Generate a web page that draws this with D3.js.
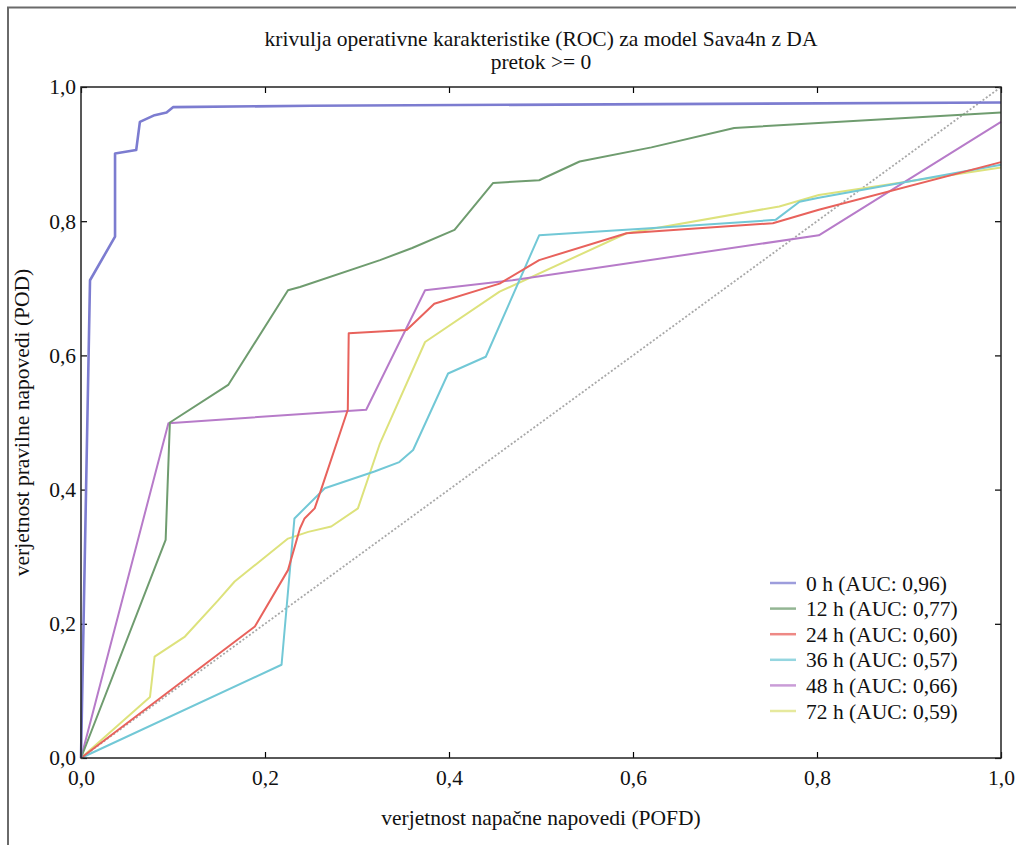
<!DOCTYPE html>
<html>
<head>
<meta charset="utf-8">
<script src="https://cdn.jsdelivr.net/npm/d3@7"></script>
<style>
  body { margin: 0; background: #fff; }
</style>
</head>
<body>
<div id="chart"></div>
<script>
// ROC curves: false alarm rate (POFD) vs. probability of detection (POD)
const seriesNames = ["0 h", "12 h", "24 h", "36 h", "48 h", "72 h"];
const aucValues = ["0,96", "0,77", "0,60", "0,57", "0,66", "0,59"];
const seriesColors = ["#7c7cd0", "#6f9c6f", "#e8625c", "#72c8d6", "#b77bc9", "#dde27c"];

const pofd0 = [0, 0.0098, 0.037, 0.037, 0.060, 0.064, 0.080, 0.093, 0.100, 0.25, 1.0];
const pod0  = [0, 0.712, 0.777, 0.901, 0.906, 0.948, 0.958, 0.962, 0.970, 0.972, 0.977];

const pofd12 = [0, 0.092, 0.0966, 0.16, 0.225, 0.238, 0.325, 0.36, 0.406, 0.448, 0.498, 0.542, 0.62, 0.71, 1.0];
const pod12  = [0, 0.325, 0.500, 0.556, 0.697, 0.702, 0.742, 0.760, 0.787, 0.857, 0.861, 0.889, 0.910, 0.939, 0.962];

const pofd24 = [0, 0.189, 0.225, 0.238, 0.243, 0.254, 0.261, 0.29, 0.291, 0.354, 0.384, 0.455, 0.498, 0.593, 0.752, 0.802, 1.0];
const pod24  = [0, 0.196, 0.280, 0.342, 0.357, 0.372, 0.400, 0.519, 0.633, 0.638, 0.677, 0.707, 0.742, 0.782, 0.797, 0.817, 0.888];

const pofd36 = [0, 0.218, 0.232, 0.265, 0.319, 0.346, 0.361, 0.399, 0.440, 0.498, 0.614, 0.755, 0.781, 0.802, 1.0];
const pod36  = [0, 0.139, 0.357, 0.402, 0.427, 0.441, 0.459, 0.573, 0.598, 0.779, 0.789, 0.802, 0.829, 0.835, 0.884];

const pofd48 = [0, 0.095, 0.310, 0.374, 0.469, 0.802, 1.0];
const pod48  = [0, 0.499, 0.519, 0.697, 0.712, 0.779, 0.948];

const pofd72 = [0, 0.075, 0.080, 0.113, 0.149, 0.167, 0.225, 0.247, 0.272, 0.301, 0.325, 0.374, 0.455, 0.593, 0.759, 0.802, 1.0];
const pod72  = [0, 0.091, 0.151, 0.181, 0.235, 0.263, 0.327, 0.337, 0.345, 0.372, 0.469, 0.620, 0.695, 0.782, 0.822, 0.839, 0.880];

const tickValues = [0, 0.2, 0.4, 0.6, 0.8, 1.0];
const tickLabels = ["0,0", "0,2", "0,4", "0,6", "0,8", "1,0"];

const titleLines = ["krivulja operativne karakteristike (ROC) za model Sava4n z DA", "pretok >= 0"];
const xLabel = "verjetnost napačne napovedi (POFD)";
const yLabel = "verjetnost pravilne napovedi (POD)";

const allX = [pofd0, pofd12, pofd24, pofd36, pofd48, pofd72];
const allY = [pod0, pod12, pod24, pod36, pod48, pod72];

const FONT = "Liberation Serif";
const FONT_SIZE = 21.5;

function renderChart() {
    const width = 1016, height = 845;
    const margin = { top: 87, left: 81 };
    const chartWidth = 1001 - margin.left;
    const chartHeight = 758 - margin.top;

    const svg = d3.select("#chart")
        .append("svg")
        .attr("width", width)
        .attr("height", height)
        .attr("font-family", FONT);

    // window frame (cropped screenshot border)
    svg.append("path")
        .attr("d", "M8,845 L8,7.5 L1016,7.5")
        .attr("fill", "none")
        .attr("stroke", "#6a6a6a")
        .attr("stroke-width", 2);

    const chart = svg.append("g")
        .attr("transform", `translate(${margin.left},${margin.top})`);

    const xScale = d3.scaleLinear().domain([0, 1]).range([0, chartWidth]);
    const yScale = d3.scaleLinear().domain([0, 1]).range([chartHeight, 0]);

    const fmt = d => tickLabels[tickValues.indexOf(d)];

    // axes with inward ticks, mirrored on top/right
    const styleAxis = g => {
        g.attr("font-family", FONT).attr("font-size", FONT_SIZE);
        g.select(".domain").remove();
        g.selectAll("line").attr("stroke", "#000").attr("stroke-width", 1.2);
        g.selectAll("text").attr("fill", "#111");
    };

    chart.append("g")
        .attr("transform", `translate(0,${chartHeight})`)
        .call(d3.axisBottom(xScale).tickValues(tickValues).tickFormat(fmt).tickSizeInner(-6).tickPadding(11))
        .call(styleAxis)
        .call(g => g.selectAll("text").attr("dy", "0.75em"));

    chart.append("g")
        .call(d3.axisLeft(yScale).tickValues(tickValues).tickFormat(fmt).tickSizeInner(-6).tickPadding(5))
        .call(styleAxis);

    chart.append("g")
        .call(d3.axisTop(xScale).tickValues(tickValues).tickFormat("").tickSizeInner(-6))
        .call(styleAxis);

    chart.append("g")
        .attr("transform", `translate(${chartWidth},0)`)
        .call(d3.axisRight(yScale).tickValues(tickValues).tickFormat("").tickSizeInner(-6))
        .call(styleAxis);

    // diagonal reference
    chart.append("line")
        .attr("x1", xScale(0)).attr("y1", yScale(0))
        .attr("x2", xScale(1)).attr("y2", yScale(1))
        .attr("stroke", "#a8a8a8")
        .attr("stroke-width", 1.8)
        .attr("stroke-dasharray", "2,2");

    const line = d3.line()
        .x(d => xScale(d[0]))
        .y(d => yScale(d[1]));

    // draw curves, last series first so 0 h sits on top
    for (let i = seriesNames.length - 1; i >= 0; i--) {
        const pts = allX[i].map((x, j) => [x, allY[i][j]]);
        chart.append("path")
            .datum(pts)
            .attr("fill", "none")
            .attr("stroke", seriesColors[i])
            .attr("stroke-width", i === 0 ? 2.6 : 2)
            .attr("stroke-linejoin", "round")
            .attr("d", line);
    }

    // plot frame
    chart.append("rect")
        .attr("width", chartWidth)
        .attr("height", chartHeight)
        .attr("fill", "none")
        .attr("stroke", "#222")
        .attr("stroke-width", 1.5);

    // legend
    const legend = svg.append("g").attr("transform", "translate(770,583)");
    seriesNames.forEach((name, i) => {
        const row = legend.append("g").attr("transform", `translate(0,${i * 25.6})`);
        row.append("line")
            .attr("x1", 0).attr("x2", 26)
            .attr("stroke", seriesColors[i])
            .attr("stroke-opacity", 0.75)
            .attr("stroke-width", 2.5);
        row.append("text")
            .attr("x", 36)
            .attr("dy", "0.35em")
            .attr("font-size", FONT_SIZE)
            .attr("fill", "#111")
            .text(`${name} (AUC: ${aucValues[i]})`);
    });

    // titles
    svg.selectAll("text.title")
        .data(titleLines)
        .enter()
        .append("text")
        .attr("class", "title")
        .attr("x", margin.left + chartWidth / 2)
        .attr("y", (d, i) => 46 + i * 23)
        .attr("text-anchor", "middle")
        .attr("font-size", FONT_SIZE)
        .attr("fill", "#111")
        .text(d => d);

    svg.append("text")
        .attr("x", margin.left + chartWidth / 2)
        .attr("y", 825)
        .attr("text-anchor", "middle")
        .attr("font-size", FONT_SIZE)
        .attr("fill", "#111")
        .text(xLabel);

    svg.append("text")
        .attr("transform", `translate(29,${margin.top + chartHeight / 2}) rotate(-90)`)
        .attr("text-anchor", "middle")
        .attr("font-size", FONT_SIZE)
        .attr("fill", "#111")
        .text(yLabel);
}

renderChart();
</script>
</body>
</html>
